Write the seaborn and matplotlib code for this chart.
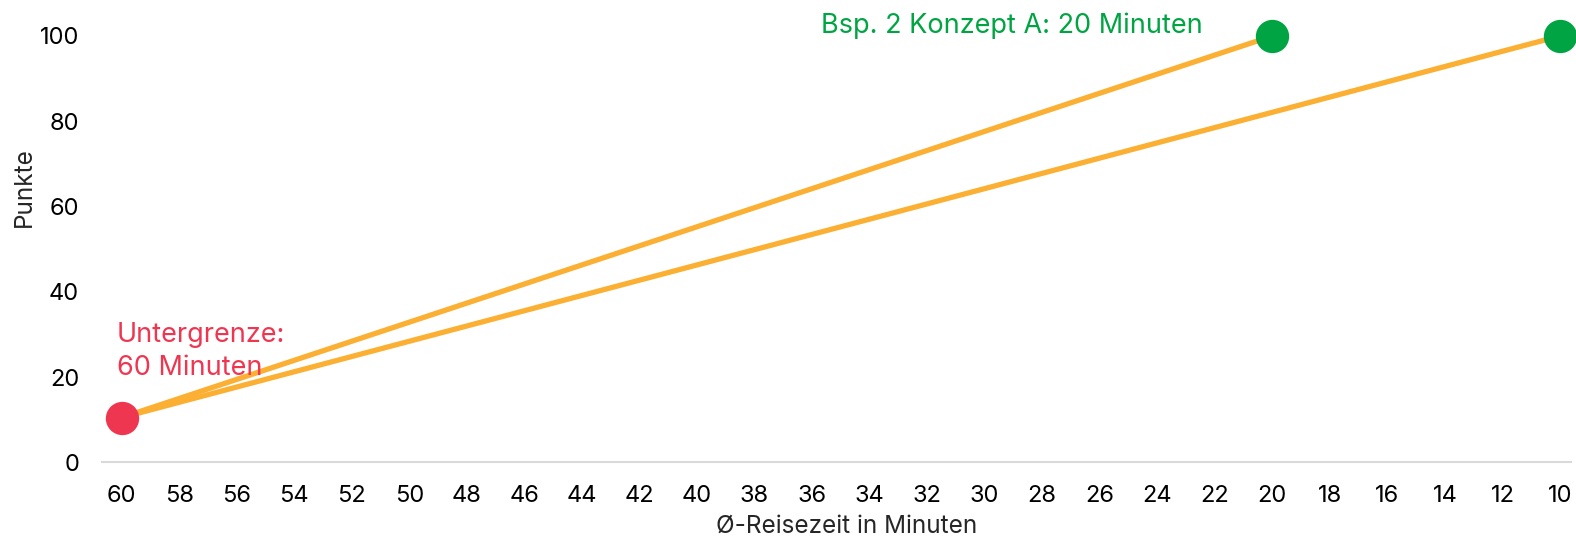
import pandas as pd
import matplotlib.pyplot as plt
import seaborn as sns

# Punktekurven: Untergrenze 60 Minuten, Obergrenze 20 bzw. 10 Minuten
kurve = ['Konzept A', 'Konzept A', 'Referenz', 'Referenz']
reisezeit = [60, 20, 60, 10]
punkte = [10.5, 100, 10.5, 100]

untergrenze_x = [60]
untergrenze_y = [10.5]
obergrenze_x = [20, 10]
obergrenze_y = [100, 100]

x_ticks = list(range(60, 9, -2))
y_ticks = [0, 20, 40, 60, 80, 100]

ORANGE = '#fbb034'
RED = '#ef3651'
GREEN = '#00a443'


def main():
    sns.set_theme(style='white')
    plt.rcParams['font.family'] = ['Inter', 'DejaVu Sans']

    df = pd.DataFrame({'kurve': kurve, 'zeit': reisezeit, 'punkte': punkte})

    W, H = 1576, 538
    fig = plt.figure(figsize=(W / 100, H / 100), dpi=100)
    # axes box in pixels: left 102, right 1571, x axis at y=462, top at y=36
    ax = fig.add_axes([102 / W, 1 - 462.3 / H, 1469 / W, 426.3 / H])

    sns.lineplot(data=df, x='zeit', y='punkte', units='kurve', estimator=None,
                 color=ORANGE, linewidth=3.8, ax=ax, sort=False)
    ax.plot(untergrenze_x, untergrenze_y, 'o', color=RED, markersize=24,
            markeredgewidth=0, clip_on=False, zorder=5)
    ax.plot(obergrenze_x, obergrenze_y, 'o', color=GREEN, markersize=24,
            markeredgewidth=0, clip_on=False, zorder=5)

    ax.set_xlim(60.685, 9.617)
    ax.set_ylim(0, 100)
    ax.set_xticks(x_ticks)
    ax.set_yticks(y_ticks)
    ax.tick_params(axis='x', length=0, pad=16, labelsize=17, colors='black')
    ax.tick_params(axis='y', length=0, pad=16.5, labelsize=17, colors='black')

    for s in ['top', 'right', 'left']:
        ax.spines[s].set_visible(False)
    ax.spines['bottom'].set_color('#d9d9d9')
    ax.spines['bottom'].set_linewidth(1.5)
    ax.spines['bottom'].set_zorder(0)

    ax.set_xlabel('Ø-Reisezeit in Minuten', fontsize=17.5, va='center')
    ax.xaxis.set_label_coords(0.507, -0.1495)
    ax.set_ylabel('Punkte', fontsize=17.5, va='center')
    ax.yaxis.set_label_coords(-0.0531, 0.646)

    ax.text(60.16, 26.1, 'Untergrenze:\n60 Minuten', color=RED, fontsize=19.5,
            ha='left', va='center', linespacing=1.35)
    ax.text(22.42, 102.3, 'Bsp. 2 Konzept A: 20 Minuten', color=GREEN,
            fontsize=19.5, ha='right', va='center', clip_on=False)

    fig.savefig('out.png', dpi=100)


if __name__ == '__main__':
    main()
